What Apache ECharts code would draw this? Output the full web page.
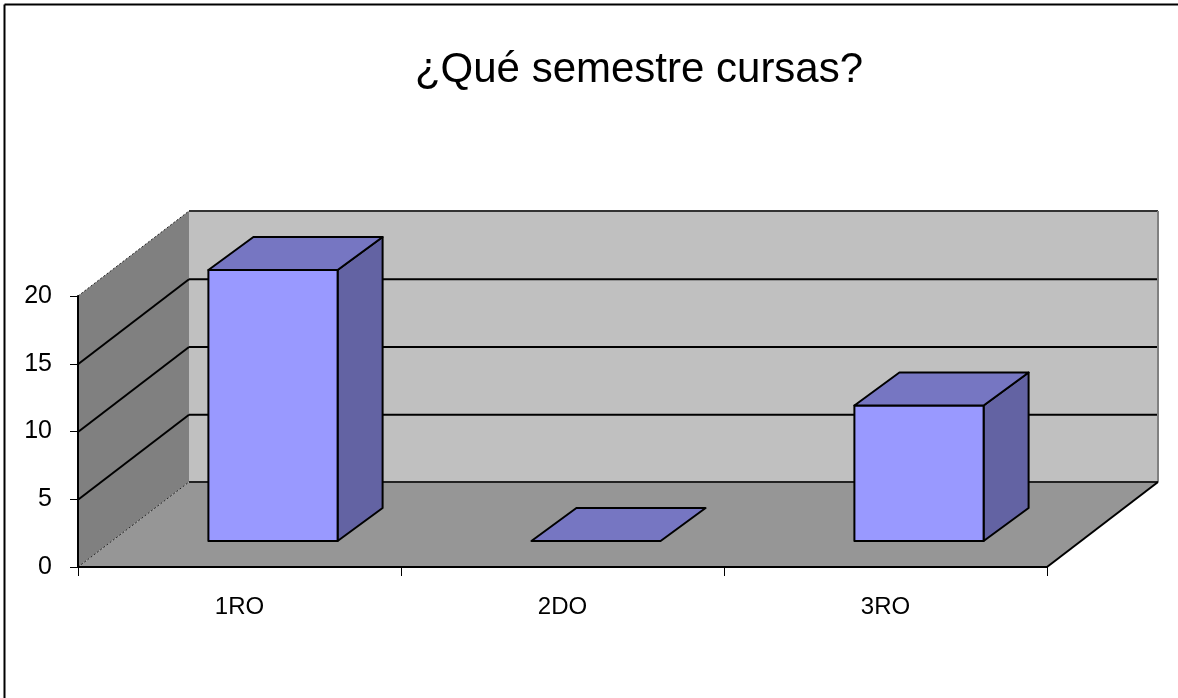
<!DOCTYPE html>
<html>
<head>
<meta charset="utf-8">
<title>¿Qué semestre cursas?</title>
<script src="https://cdn.jsdelivr.net/npm/echarts@6/dist/echarts.min.js"></script>
<style>
  html, body { margin: 0; padding: 0; background: #fff; }
  #chart { width: 1178px; height: 698px; }
</style>
</head>
<body>
<div id="chart"></div>
<script>
  const categories = ['1RO', '2DO', '3RO']
  const barValues = [20, 0, 10]
  const yTicks = [0, 5, 10, 15, 20]

  // pseudo 3d: how far the room and the bars go back, in pixels
  const roomDepth = [111, -85]
  const barInset = [33.5, -26]
  const barDepth = [45, -33]
  const barRatio = 0.4

  const font = '"Liberation Sans", Arial, sans-serif'
  const chart = echarts.init(document.getElementById('chart'))

  const shift = (p, d) => [p[0] + d[0], p[1] + d[1]]
  const poly = (points, fill, stroke, lineWidth) => ({
    type: 'polygon',
    shape: { points },
    style: { fill, stroke: stroke || null, lineWidth: lineWidth || 0, lineJoin: 'round' }
  })
  const line = (a, b, stroke, lineWidth, lineDash) => ({
    type: 'line',
    shape: { x1: a[0], y1: a[1], x2: b[0], y2: b[1] },
    style: { stroke, lineWidth, lineDash: lineDash || null }
  })

  /** walls, floor and the gridlines on them */
  const renderRoom = (params, api) => {
    const band = api.size([1, 0])[0]
    const x0 = api.coord([0, 0])[0] - band / 2
    const x1 = x0 + band * categories.length
    const yAt = (v) => api.coord([0, v])[1]
    const y0 = yAt(0)
    const yTop = yAt(yTicks[yTicks.length - 1])

    const fl = [x0, y0]
    const fr = [x1, y0]
    const tl = [x0, yTop]
    const bl = shift(fl, roomDepth)
    const br = shift(fr, roomDepth)
    const btl = shift(tl, roomDepth)
    const btr = [br[0], btl[1]]

    const children = [
      poly([btl, btr, br, bl], '#c0c0c0'),
      poly([tl, btl, bl, fl], '#808080'),
      poly([fl, bl, br, fr], '#969696')
    ]
    yTicks.slice(1, -1).forEach((v) => {
      const a = [x0, yAt(v) + 0.5]
      const b = shift(a, roomDepth)
      children.push(line(a, b, '#000', 2))
      children.push(line(b, [br[0], b[1]], '#000', 2))
    })
    children.push(line(btl, btr, '#333', 2))
    children.push(line(btr, br, '#808080', 2))
    children.push(line(bl, br, '#222', 2))
    children.push(line(br, fr, '#000', 2))
    children.push(line(tl, btl, '#222', 1, [2, 2]))
    children.push(line(fl, bl, '#222', 1, [2, 2]))
    return { type: 'group', children }
  }

  /** one box per category */
  const renderBar = (params, api) => {
    const band = api.size([1, 0])[0]
    const w = band * barRatio
    const base = api.coord([api.value(0), 0])
    const top = api.coord([api.value(0), api.value(1)])
    const left = base[0] - w / 2 + barInset[0]
    const a = [left, base[1] + barInset[1]]
    const b = [left + w, a[1]]
    const c = [left + w, top[1] + barInset[1]]
    const d = [left, c[1]]
    const children = []
    if (api.value(1) > 0) {
      children.push(poly([b, shift(b, barDepth), shift(c, barDepth), c], '#6363a3', '#000', 2))
      children.push(poly([a, b, c, d], '#9999ff', '#000', 2))
    }
    children.push(poly([d, c, shift(c, barDepth), shift(d, barDepth)], '#7676c2', '#000', 2))
    return { type: 'group', children }
  }

  chart.setOption({
    animation: false,
    title: {
      text: '¿Qué semestre cursas?',
      left: 634,
      top: 44,
      textAlign: 'center',
      textStyle: { fontFamily: font, fontSize: 42, fontWeight: 'normal', color: '#000' }
    },
    graphic: [
      { type: 'line', shape: { x1: 4.5, y1: 4.5, x2: 1178, y2: 4.5 }, style: { stroke: '#000', lineWidth: 2 } },
      { type: 'line', shape: { x1: 4.5, y1: 4.5, x2: 4.5, y2: 698 }, style: { stroke: '#000', lineWidth: 2 } }
    ],
    grid: { left: 78, right: 131, top: 296, bottom: 131 },
    xAxis: {
      type: 'category',
      data: categories,
      boundaryGap: true,
      axisLine: { lineStyle: { color: '#000', width: 2 } },
      axisTick: { show: true, length: 9, alignWithLabel: false, interval: 0, lineStyle: { color: '#000' } },
      axisLabel: { color: '#000', fontFamily: font, fontSize: 24, margin: 28 },
      z: 5
    },
    yAxis: {
      type: 'value',
      min: 0,
      max: 20,
      interval: 5,
      splitLine: { show: false },
      axisLine: { show: true, lineStyle: { color: '#000', width: 2 } },
      axisTick: { show: true, length: 8, lineStyle: { color: '#000' } },
      axisLabel: { color: '#000', fontFamily: font, fontSize: 25, margin: 26, padding: [4, 0, 0, 0], verticalAlign: 'middle' },
      z: 5
    },
    series: [
      {
        type: 'custom',
        name: 'room',
        renderItem: renderRoom,
        data: [[0, 0]],
        clip: false,
        silent: true,
        z: 1
      },
      {
        type: 'custom',
        name: 'bars',
        renderItem: renderBar,
        data: categories.map((c, i) => [i, barValues[i]]),
        encode: { x: 0, y: 1 },
        clip: false,
        z: 2
      }
    ]
  })
</script>
</body>
</html>
